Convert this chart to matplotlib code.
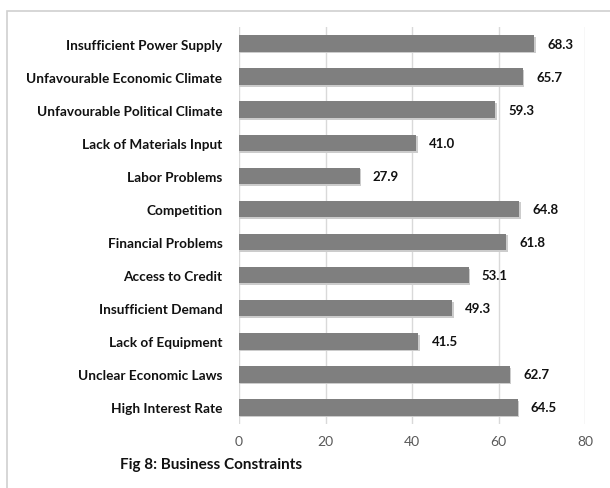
import matplotlib.pyplot as plt
from matplotlib.patches import Rectangle

constraints = ['Insufficient Power Supply', 'Unfavourable Economic Climate',
               'Unfavourable Political Climate', 'Lack of Materials Input',
               'Labor Problems', 'Competition', 'Financial Problems',
               'Access to Credit', 'Insufficient Demand', 'Lack of Equipment',
               'Unclear Economic Laws', 'High Interest Rate']
values = [68.3, 65.7, 59.3, 41.0, 27.9, 64.8, 61.8, 53.1, 49.3, 41.5, 62.7, 64.5]
xticks = [0, 20, 40, 60, 80]

plt.rcParams['font.family'] = ['Lato', 'DejaVu Sans']

fig = plt.figure(figsize=(6.1, 4.89), dpi=100)
fig.patches.append(Rectangle((7 / 610, -0.1), 1.2, 1 - 12 / 489 + 0.1,
                             transform=fig.transFigure, fill=False,
                             edgecolor='#d0d0d0', linewidth=1.2))
ax = fig.add_axes([239 / 610, 1 - 425 / 489, 346 / 610, 397 / 489])

pos = list(range(len(values)))
# soft shadow under each bar
ax.barh([p + 0.05 for p in pos], [v + 0.3 for v in values], height=0.5,
        color='#cccccc', zorder=2)
ax.barh(pos, values, height=0.5, color='#7f7f7f', zorder=3)

for p, v in zip(pos, values):
    ax.text(v + 3.0, p, f'{v:.1f}', va='center', ha='left',
            fontsize=9.5, fontweight='bold', color='#111111')

ax.set_xlim(0, 80)
ax.set_ylim(len(values) - 0.5, -0.5)
ax.set_xticks(xticks)
ax.set_yticks(pos)
ax.set_yticklabels(constraints, fontsize=9.8, fontweight='bold', color='#111111')
ax.tick_params(axis='x', labelsize=10, labelcolor='#595959', length=0, pad=8)
ax.tick_params(axis='y', length=0, pad=12)
ax.grid(axis='x', color='#d9d9d9', linewidth=1, zorder=0)
for s in ax.spines.values():
    s.set_visible(False)

fig.text(120 / 610, 1 - 465 / 489, 'Fig 8: Business Constraints',
         fontsize=11, fontweight='bold', color='#111111', va='center')

fig.savefig('out.png', dpi=100)
